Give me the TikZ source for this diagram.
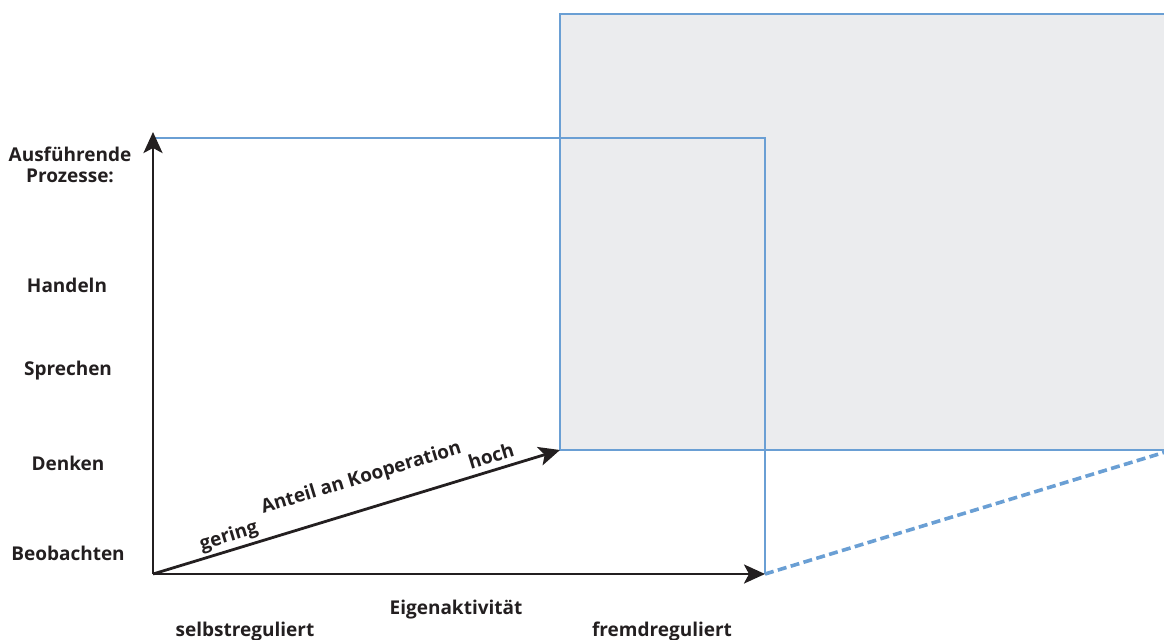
\documentclass[tikz,border=0pt]{standalone}
\usepackage{fontspec}
\setmainfont{Open Sans}
\usetikzlibrary{arrows.meta}
\definecolor{hblue}{HTML}{6A9FD4}
\definecolor{hgray}{HTML}{EBECEE}
\definecolor{hblack}{HTML}{231F20}

\tikzset{
  axis/.style={hblack, line width=1.4pt, -{Stealth[length=10.5pt, width=9.5pt, inset=2.5pt]}},
  frame/.style={hblue, line width=0.9pt},
  lbl/.style={font=\bfseries\fontsize{9.5}{10.5}\selectfont, text=hblack, inner sep=0pt, align=center},
}

\begin{document}
\begin{tikzpicture}[x=0.5pt, y=-0.5pt]
  \clip (0,0) rectangle (1164,639);
  % corners
  \coordinate (O) at (153,574);
  \coordinate (ytop) at (153,132);
  \coordinate (xend) at (765,574);
  \coordinate (zend) at (560,450);
  \coordinate (ftl) at (153,138);
  \coordinate (ftr) at (765,138);
  \coordinate (btl) at (560,14);
  \coordinate (bbr) at (1172,450);
  % back frame, shifted along the cooperation axis
  \fill[hgray] (btl) rectangle (bbr);
  \draw[frame] (btl) rectangle (bbr);
  \draw[hblue, line width=1.8pt, dash pattern=on 4.5pt off 2.2pt] (xend) -- (bbr);
  % front frame
  \draw[frame] (ftl) -- (ftr) -- (xend);
  % axes
  \draw[axis] (O) -- (ytop);
  \draw[axis] (O) -- (xend);
  \draw[axis] (O) -- (zend)
    node[lbl, pos=0.196, sloped, above=1.3pt] (gering) {gering}
    node[lbl, pos=0.534, sloped, above=9.8pt] (anteil) {Anteil an Kooperation}
    node[lbl, pos=0.841, sloped, above=3pt] (hoch) {hoch};
  % processes
  \node[lbl] (prozesse) at (70,165) {Ausführende\\Prozesse:};
  \node[lbl, anchor=base] (handeln) at (67,292) {Handeln};
  \node[lbl, anchor=base] (sprechen) at (68,375) {Sprechen};
  \node[lbl, anchor=base] (denken) at (68,470) {Denken};
  \node[lbl, anchor=base] (beob) at (68,560) {Beobachten};
  % self activity
  \node[lbl, anchor=base] (eigen) at (456,614) {Eigenaktivität};
  \node[lbl, anchor=base] (selbst) at (245,636) {selbstreguliert};
  \node[lbl, anchor=base] (fremd) at (662,636) {fremdreguliert};
\end{tikzpicture}
\end{document}
